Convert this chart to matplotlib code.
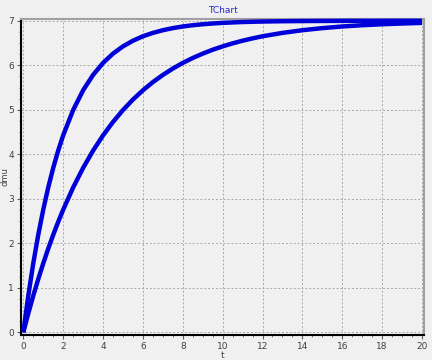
import matplotlib
matplotlib.use("Agg")
import matplotlib.pyplot as plt
from matplotlib.ticker import MultipleLocator

t = [0, 0.25, 0.5, 0.75, 1, 1.25, 1.5, 1.75, 2, 2.5, 3, 3.5, 4, 4.5, 5, 5.5,
     6, 6.5, 7, 7.5, 8, 8.5, 9, 9.5, 10, 10.5, 11, 11.5, 12, 13, 14, 15,
     16, 17, 18, 19, 20]
fast = [0, 0.823, 1.549, 2.189, 2.754, 3.253, 3.693, 4.082, 4.425, 4.994,
        5.438, 5.783, 6.053, 6.262, 6.425, 6.552, 6.652, 6.728, 6.788, 6.835,
        6.872, 6.900, 6.922, 6.939, 6.953, 6.963, 6.972, 6.978, 6.983, 6.990,
        6.994, 6.996, 6.998, 6.999, 6.999, 7.0, 7.0]
slow = [0, 0.424, 0.823, 1.196, 1.548, 1.879, 2.189, 2.481, 2.754, 3.253,
        3.693, 4.082, 4.425, 4.727, 4.994, 5.230, 5.438, 5.622, 5.783, 5.926,
        6.053, 6.164, 6.262, 6.349, 6.425, 6.493, 6.552, 6.605, 6.652, 6.728,
        6.788, 6.835, 6.872, 6.900, 6.922, 6.939, 6.953]

bg = "#f0f0f0"
fig = plt.figure(figsize=(4.32, 3.6), dpi=100, facecolor=bg)
ax = fig.add_axes([21/432, 1 - 335/360, 403/432, 316/360], facecolor=bg)

col = "#0000d8"
ax.plot(t, fast, color=col, lw=3.2, solid_capstyle="butt",
        solid_joinstyle="round", clip_on=False, zorder=3)
ax.plot(t, slow, color=col, lw=3.2, solid_capstyle="butt",
        solid_joinstyle="round", clip_on=False, zorder=3)

ax.set_xlim(-0.115, 20.1)
ax.set_ylim(-0.06, 7.04)
ax.xaxis.set_major_locator(MultipleLocator(2))
ax.xaxis.set_minor_locator(MultipleLocator(0.5))
ax.yaxis.set_major_locator(MultipleLocator(1))
ax.yaxis.set_minor_locator(MultipleLocator(0.25))

ax.grid(True, which="major", color="#a8a8a8", linestyle=(0, (2, 2)), lw=0.7)
ax.set_axisbelow(True)

for s in ["left", "bottom"]:
    ax.spines[s].set_color("black")
    ax.spines[s].set_linewidth(1.5)
for s in ["top", "right"]:
    ax.spines[s].set_color("#a0a0a0")
    ax.spines[s].set_linewidth(1.5)

ax.tick_params(which="major", length=3, width=0.8, color="#606060",
               labelsize=6.5, labelcolor="#404040", pad=2)
ax.tick_params(which="minor", length=1.5, width=0.6, color="#606060")

ax.set_xlabel("t", fontsize=6.5, color="#404040", labelpad=0)
ax.set_ylabel("dmu", fontsize=6, color="#404040")
ax.yaxis.set_label_coords(-0.028, 0.5)
ax.set_title("TChart", fontsize=6.5, color="#2828c8", pad=4)

fig.savefig("out.png", dpi=100, facecolor=bg)
